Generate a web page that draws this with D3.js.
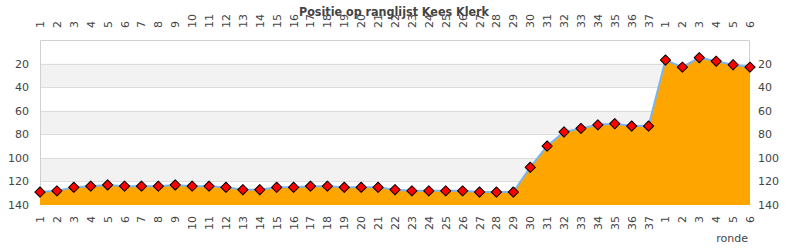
<!DOCTYPE html>
<html>
<head>
<meta charset="utf-8">
<script src="https://d3js.org/d3.v7.min.js"></script>
<style>
  body { margin: 0; background: #fff; }
  text { font-family: "DejaVu Sans", sans-serif; fill: #444; }
  .title { font-weight: bold; font-size: 12px; }
</style>
</head>
<body>
<div id="chart"></div>
<script>
// round labels: season 1 (1..37) then season 2 (1..6)
const rounds = ["1","2","3","4","5","6","7","8","9","10","11","12","13","14","15","16","17","18","19","20","21","22","23","24","25","26","27","28","29","30","31","32","33","34","35","36","37","1","2","3","4","5","6"];
const positions = [129,128,125,124,123,124,124,124,123,124,124,125,127,127,125,125,124,124,125,125,125,127,128,128,128,128,129,129,129,108,90,78,75,72,71,73,73,17,23,15,18,21,23];
const yTicks = [20, 40, 60, 80, 100, 120, 140];

const w = 790, h = 250;
const pl = 40, pr = 750, pt = 40, pb = 205;

const svg = d3.select('#chart').append('svg')
  .attr('width', w).attr('height', h);

const x = d3.scalePoint().domain(d3.range(rounds.length)).range([pl, pr]);
const y = d3.scaleLinear().domain([0, 140]).range([pt, pb]);

// alternating bands
const bands = [0, 20, 40, 60, 80, 100, 120];
svg.selectAll('.band').data(bands).enter().append('rect')
  .attr('x', pl).attr('width', pr - pl)
  .attr('y', d => y(d)).attr('height', d => y(d + 20) - y(d))
  .attr('fill', (d, i) => i % 2 ? '#f2f2f2' : '#fff');

svg.selectAll('.grid').data(yTicks.slice(0, -1)).enter().append('line')
  .attr('x1', pl).attr('x2', pr)
  .attr('y1', d => Math.round(y(d)) + 0.5).attr('y2', d => Math.round(y(d)) + 0.5)
  .attr('stroke', '#dcdcdc');

// frame (left, top, right)
svg.append('path')
  .attr('d', `M${pl + 0.5},${pb}V${pt + 0.5}H${pr - 0.5}V${pb}`)
  .attr('fill', 'none').attr('stroke', '#d0d0d0');

const area = d3.area()
  .x((d, i) => x(i)).y0(y(140)).y1(d => y(d));
svg.append('path').datum(positions)
  .attr('d', area).attr('fill', '#ffa500');

const line = d3.line().x((d, i) => x(i)).y(d => y(d));
svg.append('path').datum(positions)
  .attr('d', line).attr('fill', 'none')
  .attr('stroke', '#7cb5ec').attr('stroke-width', 2);

svg.selectAll('.pt').data(positions).enter().append('path')
  .attr('d', d3.symbol().type(d3.symbolSquare).size(52))
  .attr('transform', (d, i) => `translate(${x(i)},${y(d)}) rotate(45)`)
  .attr('fill', '#ff0000').attr('stroke', '#000').attr('stroke-width', 1)
  .attr('stroke-linejoin', 'round');

// y labels left and right
svg.selectAll('.yl').data(yTicks).enter().append('text')
  .attr('x', 29).attr('y', d => y(d) + 4)
  .attr('text-anchor', 'end').attr('font-size', 11).text(d => d);
svg.selectAll('.yr').data(yTicks).enter().append('text')
  .attr('x', 758).attr('y', d => y(d) + 4)
  .attr('font-size', 11).text(d => d);

// x labels top and bottom, rotated
svg.selectAll('.xt').data(rounds).enter().append('text')
  .attr('transform', (d, i) => `translate(${x(i) + 4},28) rotate(-90)`)
  .attr('font-size', 11).text(d => d);
svg.selectAll('.xb').data(rounds).enter().append('text')
  .attr('transform', (d, i) => `translate(${x(i) + 4},216) rotate(-90)`)
  .attr('text-anchor', 'end').attr('font-size', 11).text(d => d);

svg.append('text').attr('x', 748).attr('y', 242)
  .attr('text-anchor', 'end').attr('font-size', 11).text('ronde');

svg.append('text').attr('class', 'title')
  .attr('x', 299).attr('y', 16)
  .attr('textLength', 190).attr('lengthAdjust', 'spacingAndGlyphs')
  .text('Positie op ranglijst Kees Klerk');
</script>
</body>
</html>
